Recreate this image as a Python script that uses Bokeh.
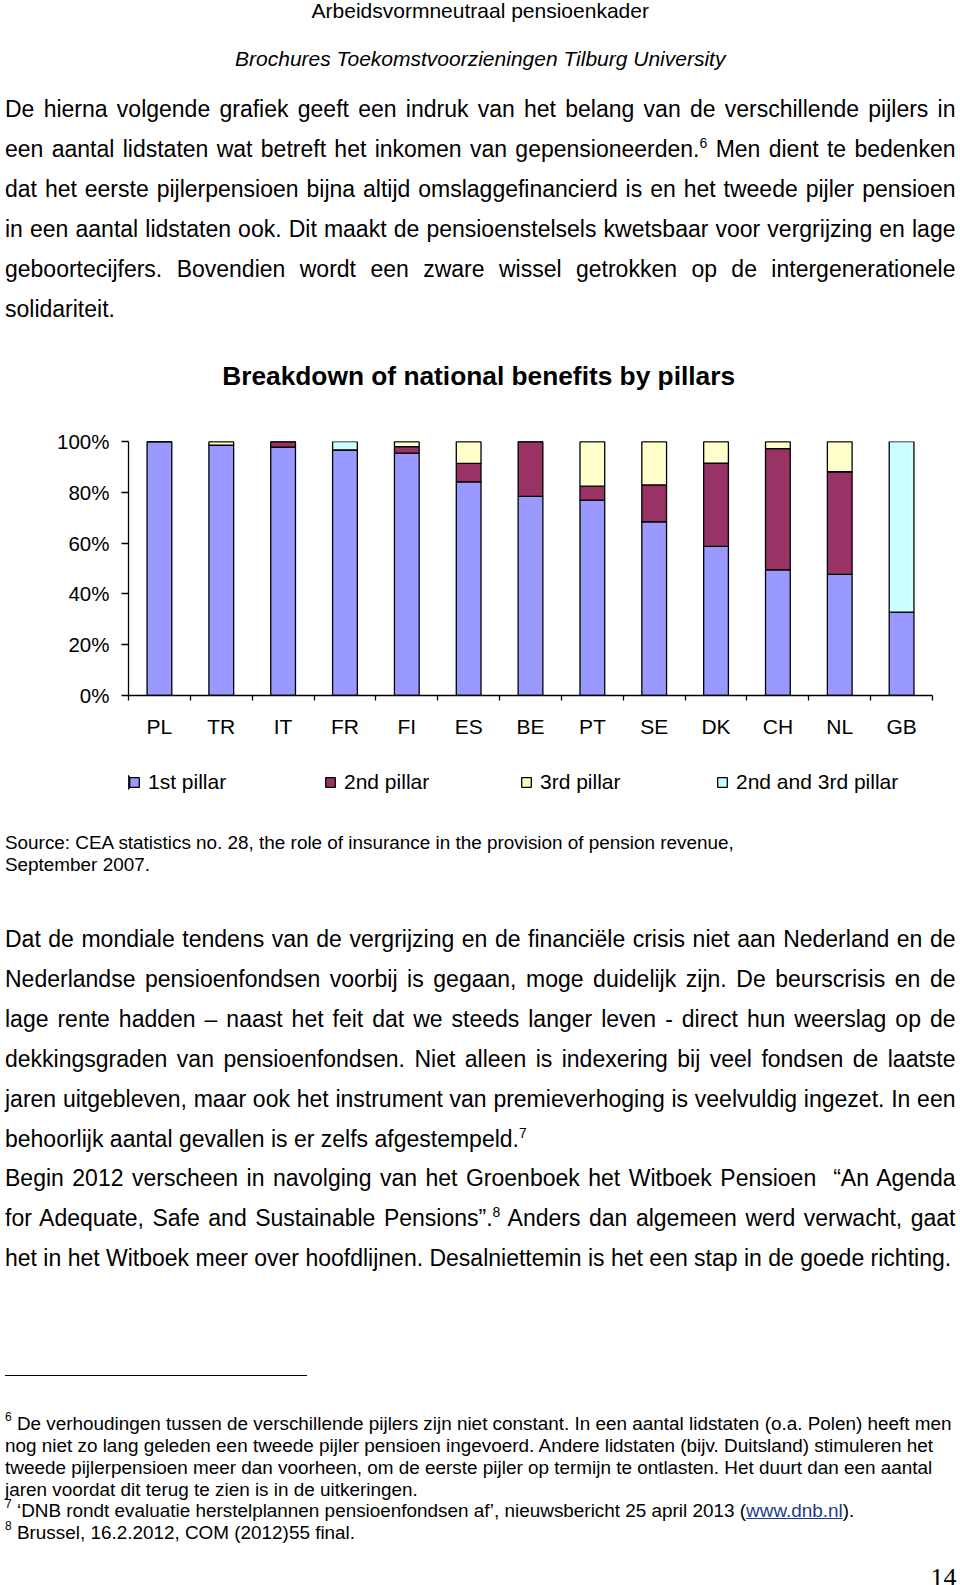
from bokeh.plotting import figure
from bokeh.models import (Range1d, FixedTicker, LinearAxis, Legend, LegendItem,
                          Div, ColumnDataSource, Title)
from bokeh.layouts import column
from bokeh.embed import file_html
from bokeh.resources import INLINE

# ---------------- data ----------------
countries = ["PL", "TR", "IT", "FR", "FI", "ES", "BE", "PT", "SE", "DK", "CH", "NL", "GB"]
pillar1 = [1.000, 0.986, 0.978, 0.967, 0.954, 0.841, 0.784, 0.769, 0.684, 0.587, 0.495, 0.477, 0.328]
pillar2 = [0.000, 0.000, 0.022, 0.000, 0.026, 0.073, 0.216, 0.055, 0.145, 0.328, 0.477, 0.404, 0.000]
pillar3 = [0.000, 0.014, 0.000, 0.000, 0.020, 0.086, 0.000, 0.176, 0.171, 0.085, 0.028, 0.119, 0.000]
pillar23 = [0.000, 0.000, 0.000, 0.033, 0.000, 0.000, 0.000, 0.000, 0.000, 0.000, 0.000, 0.000, 0.672]
series_names = ["1st pillar", "2nd pillar", "3rd pillar", "2nd and 3rd pillar"]
series_colors = ["#9999FF", "#993366", "#FFFFCC", "#CCFFFF"]
y_ticks = [0, 0.2, 0.4, 0.6, 0.8, 1.0]
y_tick_labels = ["0%", "20%", "40%", "60%", "80%", "100%"]
chart_title = "Breakdown of national benefits by pillars"

SANS = "'Liberation Sans', Arial, sans-serif"
SERIF = "'Liberation Serif', 'Times New Roman', serif"
UNCLIP = [":host{overflow:visible !important;} *{overflow:visible !important;}"]

# ---------------- text helpers ----------------
def txt(content, left, baseline, fs, div_top, width=950.5, align="left", justify=False,
        family=SANS, extra="", lh=None, serif=False):
    lh = lh if lh is not None else fs
    a, d = (0.891, 0.216) if serif else (0.905, 0.212)
    top = baseline - (lh / 2 + (a - d) / 2 * fs) - div_top
    l = left - 8
    if justify:
        al = "text-align:justify;text-align-last:justify;white-space:normal;"
    else:
        al = "text-align:%s;white-space:nowrap;" % align
    return ('<div style="position:absolute;left:%.1fpx;top:%.1fpx;width:%.1fpx;'
            'font-family:%s;font-size:%.1fpx;line-height:%.1fpx;color:#000;%s%s">%s</div>'
            % (l, top, width, family, fs, lh, al, extra, content))

def sup(n, fs=14, rise=9):
    return '<span style="font-size:%dpx;position:relative;top:-%dpx;">%s</span>' % (fs, rise, n)

BODY = 23.0
NOTE = 18.9
LEFT = 8.0

# ---------------- top block ----------------
TOP_H = 328
top_div_top = 8
top_lines = [
    txt("Arbeidsvormneutraal pensioenkader", LEFT, 20.8, 21, top_div_top, align="center"),
    txt("Brochures Toekomstvoorzieningen Tilburg University", LEFT, 68.5, 21, top_div_top,
        align="center", extra="font-style:italic;"),
]
p1 = [
    ("De hierna volgende grafiek geeft een indruk van het belang van de verschillende pijlers in", True),
    ("een aantal lidstaten wat betreft het inkomen van gepensioneerden." + sup("6") + " Men dient te bedenken", True),
    ("dat het eerste pijlerpensioen bijna altijd omslaggefinancierd is en het tweede pijler pensioen", True),
    ("in een aantal lidstaten ook. Dit maakt de pensioenstelsels kwetsbaar voor vergrijzing en lage", True),
    ("geboortecijfers. Bovendien wordt een zware wissel getrokken op de intergenerationele", True),
    ("solidariteit.", False),
]
for i, (t, j) in enumerate(p1):
    top_lines.append(txt(t, LEFT, 120.6 + i * 39.88, BODY, top_div_top, justify=j))

top_div = Div(text='<div style="position:relative;width:944px;height:%dpx;">%s</div>'
              % (TOP_H, "".join(top_lines)),
              width=944, height=TOP_H, stylesheets=UNCLIP)

# ---------------- chart ----------------
MB_TOP, FRAME_H, MB_BOTTOM = 103, 254, 60
FIG_H = MB_TOP + FRAME_H + MB_BOTTOM
p = figure(frame_width=804, frame_height=FRAME_H,
           x_range=Range1d(0, len(countries)), y_range=Range1d(0, 1),
           output_backend="svg", toolbar_location=None, x_axis_type=None, y_axis_type=None,
           min_border_left=128, min_border_right=12, min_border_top=MB_TOP,
           min_border_bottom=MB_BOTTOM)
p.outline_line_color = None
p.background_fill_color = "white"
p.border_fill_color = "white"

# spacer panel between frame and title (first "above" panel is nearest the frame)
spacer = Title(text=" ", text_font_size="2px", standoff=47, text_color="white")
p.add_layout(spacer, "above")
title = Title(text=chart_title, align="left", offset=93.7, standoff=0,
              text_font="Liberation Sans", text_font_size="26.3px", text_font_style="bold",
              text_color="black")
p.add_layout(title, "above")

centers = [i + 0.5 for i in range(len(countries))]
source = ColumnDataSource(dict(x=centers, p1=pillar1, p2=pillar2, p3=pillar3, p23=pillar23))
renderers = p.vbar_stack(["p1", "p2", "p3", "p23"], x="x", width=0.4, source=source,
                         fill_color=series_colors, line_color="black", line_width=1.3)

xaxis = LinearAxis(
    ticker=FixedTicker(ticks=centers, minor_ticks=list(range(len(countries) + 1))),
    major_label_overrides={c: n for c, n in zip(centers, countries)},
)
xaxis.axis_line_color = "black"
xaxis.axis_line_width = 1.3
xaxis.major_tick_line_color = None
xaxis.major_tick_out = 0
xaxis.major_tick_in = 0
xaxis.minor_tick_line_color = "black"
xaxis.minor_tick_line_width = 1.3
xaxis.minor_tick_out = 5
xaxis.minor_tick_in = 0
xaxis.major_label_standoff = 14
xaxis.major_label_text_font = "Liberation Sans"
xaxis.major_label_text_font_size = "21px"
xaxis.major_label_text_color = "black"
p.add_layout(xaxis, "below")

yaxis = LinearAxis(
    ticker=FixedTicker(ticks=y_ticks, minor_ticks=[]),
    major_label_overrides={v: s for v, s in zip(y_ticks, y_tick_labels)},
)
yaxis.axis_line_color = "black"
yaxis.axis_line_width = 1.3
yaxis.major_tick_line_color = "black"
yaxis.major_tick_line_width = 1.3
yaxis.major_tick_out = 7
yaxis.major_tick_in = 0
yaxis.minor_tick_line_color = None
yaxis.major_label_standoff = 12
yaxis.major_label_text_font = "Liberation Sans"
yaxis.major_label_text_font_size = "20.5px"
yaxis.major_label_text_color = "black"
p.add_layout(yaxis, "left")

# ---------------- legend strip (its own small figure) ----------------
# The same stacked bars are drawn here, but the x range lies beyond them, so only
# the legend (which shows the series styles) is visible.
LEG_H = 51
lf = figure(width=944, height=LEG_H,
            x_range=Range1d(len(countries) + 1, len(countries) + 2), y_range=Range1d(-1.5, 1.5),
            output_backend="svg", toolbar_location=None, x_axis_type=None, y_axis_type=None,
            min_border_left=127, min_border_right=0, min_border_top=15, min_border_bottom=0)
lf.outline_line_color = None
lf.background_fill_color = "white"
lf.border_fill_color = "white"
leg_renderers = lf.vbar_stack(["p1", "p2", "p3", "p23"], x="x", width=0.4, source=source,
                              fill_color=series_colors, line_color="black", line_width=1.3)
legend = Legend(items=[LegendItem(label=n, renderers=[r]) for n, r in zip(series_names, leg_renderers)],
                orientation="horizontal", location="top_left",
                glyph_width=12, glyph_height=12, label_standoff=8, label_width=170, spacing=6,
                padding=0, margin=0, border_line_color=None, background_fill_alpha=0)
legend.label_text_font = "Liberation Sans"
legend.label_text_font_size = "21px"
legend.label_text_color = "black"
lf.add_layout(legend, "center")

# ---------------- bottom block ----------------
bot_top = 8 + TOP_H + FIG_H + LEG_H
BOT_H = 770
DY = -6.0
bot_lines = [
    txt("Source: CEA statistics no. 28, the role of insurance in the provision of pension revenue,",
        LEFT, 848.6 + DY, NOTE, bot_top),
    txt("September 2007.", LEFT, 870.8 + DY, NOTE, bot_top),
]
p2 = [
    ("Dat de mondiale tendens van de vergrijzing en de financiële crisis niet aan Nederland en de", True),
    ("Nederlandse pensioenfondsen voorbij is gegaan, moge duidelijk zijn. De beurscrisis en de", True),
    ("lage rente hadden – naast het feit dat we steeds langer leven - direct hun weerslag op de", True),
    ("dekkingsgraden van pensioenfondsen. Niet alleen is indexering bij veel fondsen de laatste", True),
    ("jaren uitgebleven, maar ook het instrument van premieverhoging is veelvuldig ingezet. In een", True),
    ("behoorlijk aantal gevallen is er zelfs afgestempeld." + sup("7"), False),
    ("Begin 2012 verscheen in navolging van het Groenboek het Witboek Pensioen &nbsp;“An Agenda", True),
    ("for Adequate, Safe and Sustainable Pensions”." + sup("8") + " Anders dan algemeen werd verwacht, gaat", True),
    ("het in het Witboek meer over hoofdlijnen. Desalniettemin is het een stap in de goede richting.", False),
]
for i, (t, j) in enumerate(p2):
    bot_lines.append(txt(t, LEFT, 946.5 + DY + i * 39.9, BODY, bot_top, justify=j))

# footnote rule
bot_lines.append('<div style="position:absolute;left:%.1fpx;top:%.1fpx;width:302px;height:0;'
                 'border-top:1px solid #000;"></div>' % (LEFT - 8, 1374.0 + DY - bot_top))

notes = [
    sup("6", 12.5, 9) + " De verhoudingen tussen de verschillende pijlers zijn niet constant. In een aantal lidstaten (o.a. Polen) heeft men",
    "nog niet zo lang geleden een tweede pijler pensioen ingevoerd. Andere lidstaten (bijv. Duitsland) stimuleren het",
    "tweede pijlerpensioen meer dan voorheen, om de eerste pijler op termijn te ontlasten. Het duurt dan een aantal",
    "jaren voordat dit terug te zien is in de uitkeringen.",
    sup("7", 12.5, 9) + " ‘DNB rondt evaluatie herstelplannen pensioenfondsen af’, nieuwsbericht 25 april 2013 ("
    + '<span style="color:#1F3A8A;text-decoration:underline;">www.dnb.nl</span>).',
    sup("8", 12.5, 9) + " Brussel, 16.2.2012, COM (2012)55 final.",
]
for i, t in enumerate(notes):
    bot_lines.append(txt(t, LEFT, 1430.2 + DY + i * 21.8, NOTE, bot_top))

# page number
bot_lines.append(txt("14", 899.5, 1580.0, 26, bot_top, width=60, align="right",
                     family=SERIF, serif=True, lh=18))

bot_div = Div(text='<div style="position:relative;width:944px;height:%dpx;">%s</div>'
              % (BOT_H, "".join(bot_lines)),
              width=944, height=BOT_H, stylesheets=UNCLIP)

layout = column(top_div, p, lf, bot_div, spacing=0)

open("out.html", "w").write(file_html(layout, INLINE))
